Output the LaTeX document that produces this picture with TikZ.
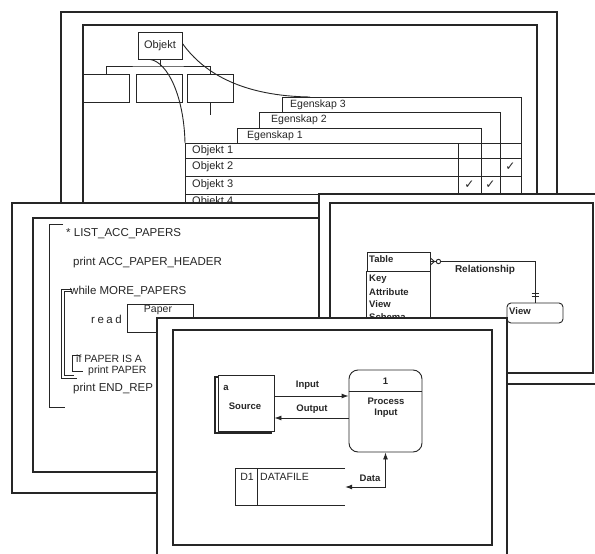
\documentclass[tikz,border=0pt]{standalone}
\usepackage{fontspec}
\setmainfont{Liberation Sans}
\newfontfamily\djv{DejaVu Sans}
\usetikzlibrary{arrows.meta,calc}
\definecolor{ink}{HTML}{262626}
\begin{document}
\begin{tikzpicture}[x=1pt,y=-1pt,
 frame/.style={draw=ink,line width=1.5pt},
 ln/.style={draw=ink,line width=0.9pt},
 t/.style={text=ink,inner sep=0pt,font=\fontsize{10.5}{12}\selectfont},
 tl/.style={t,anchor=west},
 obtxt/.style={tl,font=\fontsize{11}{12}\selectfont},
 code/.style={tl,font=\fontsize{11.5}{13}\selectfont},
 codes/.style={tl,font=\fontsize{10.5}{12}\selectfont},
 er/.style={tl,font=\bfseries\fontsize{9.5}{11}\selectfont},
 dfd/.style={t,font=\bfseries\fontsize{9.5}{11}\selectfont},
 chk/.style={t,font={\djv\fontsize{12}{12}\selectfont}},
 arr/.style={ln,-{Latex[length=7pt,width=5pt]}},
 dbl/.style={ln,{Latex[length=7pt,width=5pt]}-{Latex[length=7pt,width=5pt]}},
]
\useasboundingbox (0,0) rectangle (595,554);
\fill[white] (0,0) rectangle (595,554);

% ---------------- top panel ----------------
\fill[white] (61,12) rectangle (557,250);
\draw[frame] (61,12) rectangle (557,250);
\draw[frame] (83,25) rectangle (537,240);
\node[ln,draw,minimum width=44pt,minimum height=27pt,inner sep=0pt,text=ink,font=\fontsize{11}{12}\selectfont] (obj) at (160,45.5) {Objekt};
\node[ln,draw,minimum width=46pt,minimum height=28pt] (h1) at (106,88) {};
\node[ln,draw,minimum width=46pt,minimum height=28pt] (h2) at (159,88) {};
\node[ln,draw,minimum width=46pt,minimum height=28pt] (h3) at (210,88) {};
\coordinate (hb) at (158,66);
\draw[ln] (obj.south) -- (obj.south |- hb);
\draw[ln] (h1.north) |- (hb) -| (h3.north);
\draw[ln] (h3.south) -- ++(0,13);
\coordinate (e3c) at (310,97);
\coordinate (tbltl) at (185,143);
\draw[ln] ([yshift=2pt]obj.east) .. controls (205,75) and (245,96) .. (e3c);
\draw[ln] ([xshift=-10pt]obj.south) .. controls (168,62) and (184,97) .. (tbltl);
% property steps
\draw[ln] (282,112) -- (282,97) -- (521,97) -- (521,215);
\draw[ln] (259,128) -- (259,112) -- (500,112) -- (500,215);
\draw[ln] (237,143) -- (237,128) -- (481,128) -- (481,215);
\node[tl] (e3) at (290,104.5) {Egenskap 3};
\node[tl] (e2) at (271,120) {Egenskap 2};
\node[tl] (e1) at (247,135.5) {Egenskap 1};
% table
\draw[ln] (185,215) -- (tbltl) -- (521,143);
\foreach \yy in {158,176,194} \draw[ln] (185,\yy) -- (521,\yy);
\draw[ln] (458,143) -- (458,215);
\node[obtxt] (o1) at (192,150.5) {Objekt 1};
\node[obtxt] (o2) at (192,167) {Objekt 2};
\node[obtxt] (o3) at (192,185) {Objekt 3};
\node[obtxt] (o4) at (192,202) {Objekt 4};
\node[chk] (c1) at (510.5,167) {✓};
\node[chk] (c2) at (469.5,185) {✓};
\node[chk] (c3) at (490.5,185) {✓};

% ---------------- left panel ----------------
\fill[white] (12,203) rectangle (400,493);
\draw[frame] (12,203) rectangle (400,493);
\draw[frame] (33,218) rectangle (390,472);
\draw[ln] (63,224) -- (49,224) -- (49,407) -- (65,407);
\node[code] (l1) at (66,234) {* LIST\_ACC\_PAPERS};
\node[code] (l2) at (73,263) {print ACC\_PAPER\_HEADER};
\draw[ln] (72,289) -- (61,289) -- (61,378) -- (77,378);
\draw[ln] (72,291.5) -- (64,291.5) -- (64,375) -- (74,375);
\node[code] (l3) at (70,291) {while MORE\_PAPERS};
\node[code,font=\addfontfeature{LetterSpace=22}\fontsize{11.5}{13}\selectfont] (l4) at (91,319) {read};
\node[ln,draw,minimum width=66pt,minimum height=28pt] (paperbox) at (160,318) {};
\node[t] (papertxt) at (158,310) {Paper};
\draw[ln] (80,355) -- (72,355) -- (72,371) -- (83,371);
\node[codes] (l5) at (76,358.5) {if PAPER IS A};
\node[codes] (l6) at (88,371) {print PAPER};
\node[code] (l7) at (73,389) {print END\_REP};

% ---------------- right panel ----------------
\fill[white] (319,194) rectangle (595,384);
\draw[frame] (595,194) -- (319,194) -- (319,384) -- (595,384);
\draw[frame] (330,203) rectangle (593,373);
\node[ln,draw,minimum width=63pt,minimum height=19pt,inner sep=0pt] (tbl) at (398.5,261.5) {};
\draw[ln] (tbl.south west) -- ++(0,60);
\draw[ln] (tbl.south east) -- ++(0,60);
\node[er] (tbltxt) at (369,259) {Table};
\node[er] (k1) at (369,279) {Key};
\node[er] (k2) at (369,292) {Attribute};
\node[er] (k3) at (369,304) {View};
\node[er] (k4) at (369,317) {Schema};
\node[ln,draw,rounded corners=4pt,minimum width=56pt,minimum height=20pt] (view) at (535,313) {};
\node[er] (viewtxt) at (509,311) {View};
\draw[ln] (tbl.east) -| (view.north);
\draw[ln] ([yshift=3.5pt]tbl.east) -- ([xshift=4pt]tbl.east) -- ([yshift=-3.5pt]tbl.east);
\draw[ln,fill=white] ([xshift=8pt]tbl.east) circle (2.2pt);
\draw[ln] ($(view.north)+(-3.5,-9)$) -- ++(7,0);
\draw[ln] ($(view.north)+(-3.5,-6)$) -- ++(7,0);
\node[t,font=\bfseries\fontsize{10}{11}\selectfont] (rel) at (485,270) {Relationship};

% ---------------- front panel ----------------
\fill[white] (157,318) rectangle (507,554);
\draw[frame] (157,554) -- (157,318) -- (507,318) -- (507,554);
\draw[frame] (173,330) rectangle (492,545);
\draw[ln,line width=1.3pt] (215,377) rectangle (271,433);
\node[ln,draw,fill=white,minimum width=56pt,minimum height=56pt] (src) at (246,403) {};
\node[dfd] (srca) at (226,388) {a};
\node[dfd] (srctxt) at (245,406) {Source};
\node[ln,draw,rounded corners=9pt,minimum width=73pt,minimum height=82pt] (proc) at (385.5,411) {};
\draw[ln] ([yshift=-22pt]proc.north west) -- ([yshift=-22pt]proc.north east);
\node[dfd] (pnum) at (385.5,381) {1};
\node[dfd] (ptxt1) at (386,401) {Process};
\node[dfd] (ptxt2) at (386,413) {Input};
\draw[arr] ([yshift=7pt]src.east) -- ([yshift=7pt]src.east -| proc.west);
\draw[arr] ([yshift=-15pt]src.east -| proc.west) -- ([yshift=-15pt]src.east);
\node[dfd] (inlbl) at (307.5,385) {Input};
\node[dfd] (outlbl) at (312,409) {Output};
\node[minimum width=109pt,minimum height=36pt,inner sep=0pt] (ds) at (290.5,487) {};
\draw[ln] (ds.north east) -- (ds.north west) -- (ds.south west) -- (ds.south east);
\draw[ln] ([xshift=22pt]ds.north west) -- ([xshift=22pt]ds.south west);
\node[t] (dsid) at (247,477) {D1};
\node[tl] (dsname) at (260,477) {DATAFILE};
\draw[dbl] (ds.east) -| (proc.south);
\node[dfd] (datalbl) at (370,478) {Data};
\end{tikzpicture}
\end{document}
